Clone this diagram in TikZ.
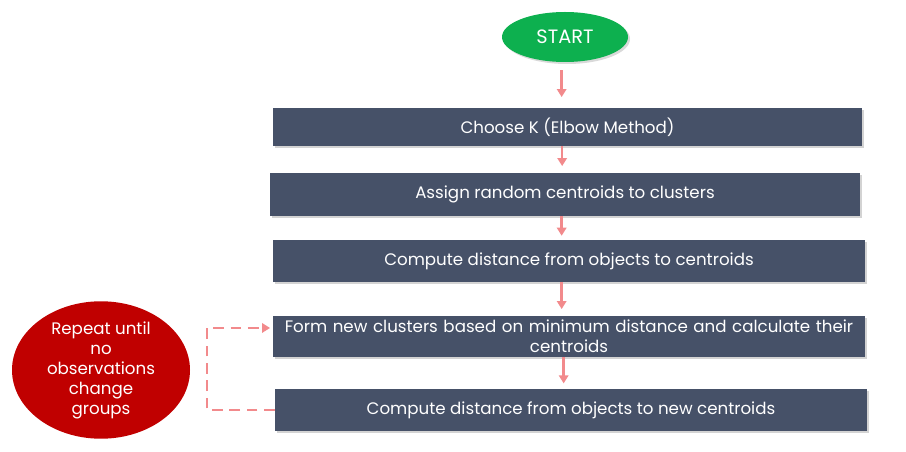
\documentclass[tikz,border=0pt]{standalone}
\usepackage{fontspec}
\setmainfont{Poppins}
\usetikzlibrary{shapes.geometric,arrows.meta,shadows}
\definecolor{stepfill}{HTML}{465168}
\definecolor{startgreen}{HTML}{0DB04F}
\definecolor{loopred}{HTML}{C00000}
\definecolor{linkpink}{HTML}{F28A8C}
\begin{document}
\begin{tikzpicture}[x=0.75pt,y=-0.75pt,
  stepbox/.style={rectangle,fill=stepfill,text=white,font=\fontsize{12.5}{15}\selectfont,
    align=center,inner sep=0pt,
    drop shadow={shadow xshift=1.5pt,shadow yshift=-1.5pt,opacity=0.35,fill=gray}},
  link/.style={draw=linkpink,line width=1.8pt,-{Triangle[length=6pt,width=7pt]}},
  looplink/.style={link,dashed,dash pattern=on 8pt off 5pt}]
\useasboundingbox (0,0) rectangle (906,452);
% start terminal
\node[ellipse,fill=startgreen,text=white,minimum width=94.5pt,minimum height=37.5pt,
  font=\fontsize{14.5}{16}\selectfont,
  drop shadow={shadow xshift=1.5pt,shadow yshift=-1.5pt,opacity=0.3,fill=gray}] (start) at (565,37) {START};
% process steps
\node[stepbox,minimum width=441.75pt,minimum height=28.5pt] (b1) at (567.5,127) {Choose K (Elbow Method)};
\node[stepbox,minimum width=442.5pt,minimum height=32.25pt] (b2) at (565,194.5) {Assign random centroids to clusters};
\node[stepbox,minimum width=444pt,minimum height=31.5pt] (b3) at (569,261) {Compute distance from objects to centroids};
\node[stepbox,minimum width=444pt,minimum height=30.75pt,text width=440pt] (b4) at (569,336.5) {Form new clusters based on minimum distance and calculate their\\centroids};
\node[stepbox,minimum width=444pt,minimum height=31.5pt] (b5) at (571,410) {Compute distance from objects to new centroids};
% loop note
\node[ellipse,fill=loopred,text=white,minimum width=133.5pt,minimum height=100.5pt,
  align=center,font=\fontsize{12.5}{15}\selectfont,inner sep=0pt] (note) at (101,370)
  {Repeat until\\no\\observations\\change\\groups};
% flow
\draw[link,shorten >=8pt,shorten <=6pt] ([xshift=-2.5pt]start.south) -- ([xshift=-2.5pt]start.south |- b1.north);
\draw[link,shorten >=5pt] ([xshift=-4pt]b1.south) -- ([xshift=-4pt]b1.south |- b2.north);
\draw[link,shorten >=3pt] ([xshift=-2.5pt]b2.south) -- ([xshift=-2.5pt]b2.south |- b3.north);
\draw[link,shorten >=5pt] ([xshift=-5.5pt]b3.south) -- ([xshift=-5.5pt]b3.south |- b4.north);
\draw[link,shorten >=4pt] ([xshift=-4pt]b4.south) -- ([xshift=-4pt]b4.south |- b5.north);
% repeat loop
\coordinate (turn) at (207,0);
\draw[looplink,line width=2.2pt,shorten >=2pt] (b5.west) -- (b5.west -| turn) |- ([yshift=6.4pt]b4.west);
\end{tikzpicture}
\end{document}
